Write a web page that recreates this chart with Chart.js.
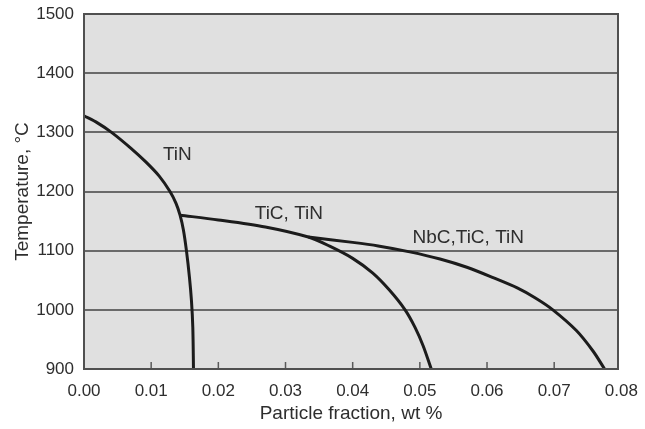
<!DOCTYPE html>
<html>
<head>
<meta charset="utf-8">
<script src="https://cdn.jsdelivr.net/npm/chart.js@4.4.1/dist/chart.umd.min.js"></script>
<style>
  html, body { margin: 0; padding: 0; background: #ffffff; }
  #wrap { width: 645px; height: 429px; }
</style>
</head>
<body>
<div id="wrap"><canvas id="c" width="645" height="429"></canvas></div>
<script>
// Axis ticks
const fracTicks = [0.00, 0.01, 0.02, 0.03, 0.04, 0.05, 0.06, 0.07, 0.08];
const tempTicks = [900, 1000, 1100, 1200, 1300, 1400, 1500];

// TiN solvus curve (wt % vs °C)
const tinFrac = [0.0000, 0.0020, 0.0041, 0.0070, 0.0092, 0.0112, 0.0128, 0.0137, 0.0143, 0.0148, 0.01525, 0.0157, 0.0160, 0.0162, 0.0163];
const tinTemp = [1328, 1316, 1300, 1273, 1250, 1226, 1200, 1180, 1160, 1135, 1100, 1055, 1015, 970, 900];

// TiC + TiN curve
const ticFrac = [0.0143, 0.0200, 0.0270, 0.0334, 0.0365, 0.0400, 0.0430, 0.0455, 0.0478, 0.0493, 0.0505, 0.0517];
const ticTemp = [1160, 1152, 1140, 1123, 1108, 1087, 1062, 1033, 1000, 970, 939, 900];

// NbC + TiC + TiN curve
const nbcFrac = [0.0334, 0.0400, 0.0438, 0.0485, 0.0530, 0.0570, 0.0610, 0.0645, 0.0672, 0.0698, 0.0733, 0.0758, 0.0775];
const nbcTemp = [1123, 1114, 1108, 1098, 1086, 1072, 1054, 1037, 1020, 1000, 965, 930, 900];

// Phase labels: text, fraction, temperature
const labelText = ['TiN', 'TiC, TiN', 'NbC,TiC, TiN'];
const labelFrac = [0.0139, 0.0305, 0.0572];
const labelTemp = [1262, 1163, 1122];

const pts = (xs, ys) => xs.map((x, i) => ({ x: x, y: ys[i] }));

const FONT = '"Liberation Sans", Arial, Helvetica, sans-serif';
const TEXT = '#2e2e2e';

const plotDecor = {
  id: 'plotDecor',
  beforeDraw(chart) {
    const { ctx, chartArea: a } = chart;
    ctx.save();
    ctx.fillStyle = '#e0e0e0';
    ctx.fillRect(a.left, a.top, a.right - a.left, a.bottom - a.top);
    ctx.restore();
  },
  afterDatasetsDraw(chart) {
    const { ctx, chartArea: a, scales } = chart;
    ctx.save();
    // inward tick marks on the bottom axis
    ctx.strokeStyle = '#5a5a5a';
    ctx.lineWidth = 1.5;
    fracTicks.forEach(v => {
      const px = scales.x.getPixelForValue(v);
      if (px > a.left + 2 && px < a.right - 2) {
        ctx.beginPath();
        ctx.moveTo(px, a.bottom);
        ctx.lineTo(px, a.bottom - 7);
        ctx.stroke();
      }
    });
    // frame
    ctx.strokeStyle = '#505050';
    ctx.lineWidth = 2;
    ctx.strokeRect(a.left, a.top, a.right - a.left, a.bottom - a.top);
    // phase labels
    ctx.fillStyle = TEXT;
    ctx.font = '19px ' + FONT;
    ctx.textAlign = 'center';
    ctx.textBaseline = 'middle';
    labelText.forEach((t, i) => {
      ctx.fillText(t, scales.x.getPixelForValue(labelFrac[i]), scales.y.getPixelForValue(labelTemp[i]));
    });
    ctx.restore();
  }
};

const lineStyle = {
  showLine: true,
  pointRadius: 0,
  borderColor: '#1c1c1c',
  borderWidth: 3,
  tension: 0.3,
  fill: false
};

new Chart(document.getElementById('c'), {
  type: 'scatter',
  data: {
    datasets: [
      Object.assign({ label: 'TiN', data: pts(tinFrac, tinTemp) }, lineStyle),
      Object.assign({ label: 'TiC, TiN', data: pts(ticFrac, ticTemp) }, lineStyle),
      Object.assign({ label: 'NbC,TiC, TiN', data: pts(nbcFrac, nbcTemp) }, lineStyle)
    ]
  },
  options: {
    responsive: false,
    animation: false,
    devicePixelRatio: 1,
    layout: { padding: { top: 14, right: 27, bottom: 0, left: 0 } },
    plugins: { legend: { display: false }, tooltip: { enabled: false } },
    scales: {
      x: {
        type: 'linear',
        min: 0,
        max: 0.0795,
        afterBuildTicks: s => { s.ticks = fracTicks.map(v => ({ value: v })); },
        afterFit: s => { s.height = 60; s.paddingLeft = 0; s.paddingRight = 0; },
        grid: { display: false, drawTicks: false },
        border: { display: false },
        ticks: {
          autoSkip: false,
          maxRotation: 0,
          padding: 12,
          color: TEXT,
          font: { family: FONT, size: 17 },
          callback: v => Number(v).toFixed(2)
        },
        title: {
          display: true,
          text: 'Particle fraction, wt %',
          color: TEXT,
          font: { family: FONT, size: 19 },
          padding: { top: 0, bottom: 4 }
        }
      },
      y: {
        type: 'linear',
        min: 900,
        max: 1500,
        afterBuildTicks: s => { s.ticks = tempTicks.map(v => ({ value: v })); },
        afterFit: s => { s.width = 84; s.paddingTop = 0; s.paddingBottom = 0; },
        grid: { color: '#6a6a6a', lineWidth: 2, drawTicks: false },
        border: { display: false },
        ticks: {
          padding: 10,
          color: TEXT,
          font: { family: FONT, size: 17 },
          callback: v => String(v)
        },
        title: {
          display: true,
          text: 'Temperature, °C',
          color: TEXT,
          font: { family: FONT, size: 19 },
          padding: { top: 11, bottom: 0 }
        }
      }
    }
  },
  plugins: [plotDecor]
});
</script>
</body>
</html>
